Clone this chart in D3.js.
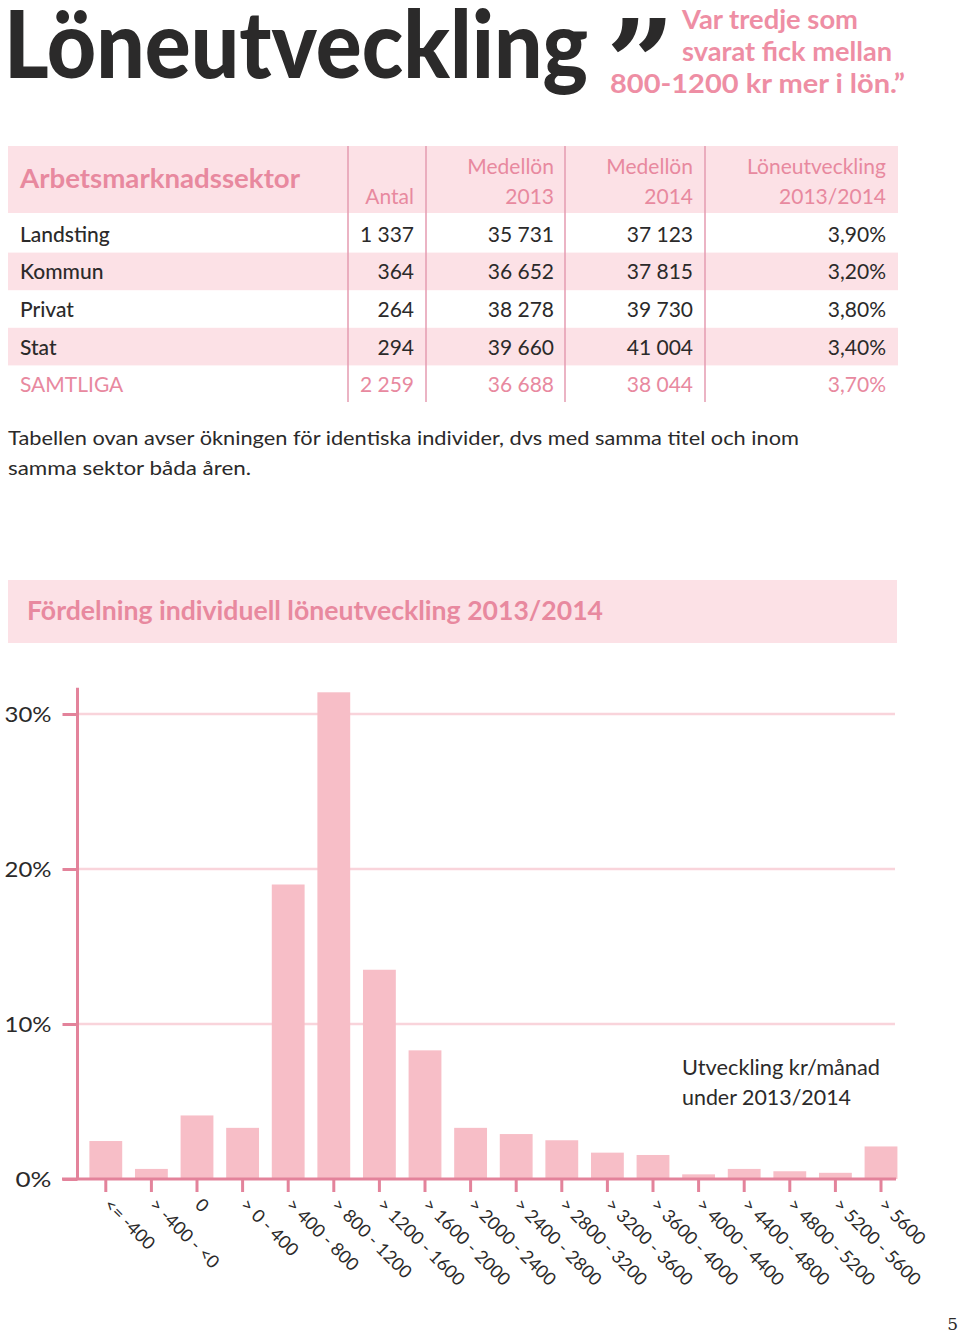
<!DOCTYPE html>
<html><head><meta charset="utf-8">
<script src="https://cdn.jsdelivr.net/npm/d3@7"></script>
<style>
html,body{margin:0;padding:0;background:#fff;}
svg{display:block;font-family:Lato,"Noto Sans",sans-serif;}
</style></head>
<body><svg id="c" width="960" height="1333"></svg>
<script>
// ---- data ----
const categories = ["<= -400","> -400 - <0","0","> 0 - 400","> 400 - 800","> 800 - 1200","> 1200 - 1600","> 1600 - 2000","> 2000 - 2400","> 2400 - 2800","> 2800 - 3200","> 3200 - 3600","> 3600 - 4000","> 4000 - 4400","> 4400 - 4800","> 4800 - 5200","> 5200 - 5600","> 5600"];
const shares = [2.45,0.65,4.1,3.3,19.0,31.4,13.5,8.3,3.3,2.9,2.5,1.7,1.55,0.3,0.65,0.5,0.4,2.1];
const yTicks = [0,10,20,30];
const sectors = ["Landsting","Kommun","Privat","Stat","SAMTLIGA"];
const antal = ["1 337","364","264","294","2 259"];
const medel2013 = ["35 731","36 652","38 278","39 660","36 688"];
const medel2014 = ["37 123","37 815","39 730","41 004","38 044"];
const utveckling = ["3,90%","3,20%","3,80%","3,40%","3,70%"];

const PINK="#e8899f", LIGHT="#fce1e6", BAR="#f7bec7", DARK="#2b2a2a", AXIS="#e3839b", GRID="#f9d4db";
const svg=d3.select("#c");

// ---- heading ----
svg.append("text").attr("x",4).attr("y",78).attr("font-size",94).attr("font-weight",900)
  .attr("fill",DARK).attr("textLength",584).attr("lengthAdjust","spacingAndGlyphs").text("Löneutveckling");
svg.append("text").attr("x",606).attr("y",106).attr("font-size",120).attr("font-weight",700)
  .attr("fill",DARK).attr("font-family","'DejaVu Serif',serif").text("”");
const q=[["Var tredje som",682,29,176],["svarat fick mellan",682,61,210],["800-1200 kr mer i lön.”",610,93,295]];
q.forEach(([t,x,y,w])=>svg.append("text").attr("x",x).attr("y",y).attr("font-size",27).attr("font-weight",700)
  .attr("fill","#ee8ea4").attr("textLength",w).attr("lengthAdjust","spacingAndGlyphs").text(t));

// ---- table ----
const tL=8,tR=898,hTop=146,hBot=213,rowH=37.6;
const colRight=[414,554,693,886];
const dividers=[348,426,565,705];
svg.append("rect").attr("x",tL).attr("y",hTop).attr("width",tR-tL).attr("height",hBot-hTop).attr("fill",LIGHT);
sectors.forEach((s,i)=>{ if(i%2===1) svg.append("rect").attr("x",tL).attr("y",hBot+2+i*rowH).attr("width",tR-tL).attr("height",rowH).attr("fill",LIGHT);});
dividers.forEach(x=>svg.append("line").attr("x1",x).attr("x2",x).attr("y1",hTop).attr("y2",402).attr("stroke","#e49bb0").attr("stroke-width",1.5));
svg.append("text").attr("x",20).attr("y",188).attr("font-size",26).attr("font-weight",700).attr("fill",PINK)
  .attr("textLength",280).attr("lengthAdjust","spacingAndGlyphs").text("Arbetsmarknadssektor");
const heads=[["","Antal"],["Medellön","2013"],["Medellön","2014"],["Löneutveckling","2013/2014"]];
heads.forEach((h,j)=>{
  svg.append("text").attr("x",colRight[j]).attr("y",174).attr("text-anchor","end").attr("font-size",21).attr("fill",PINK).text(h[0]);
  svg.append("text").attr("x",colRight[j]).attr("y",204).attr("text-anchor","end").attr("font-size",21).attr("fill",PINK).text(h[1]);
});
const cols=[antal,medel2013,medel2014,utveckling];
sectors.forEach((s,i)=>{
  const y=hBot+2+i*rowH+rowH/2+8;
  const c= i===4?PINK:DARK;
  svg.append("text").attr("x",20).attr("y",y).attr("font-size",21).attr("fill",c).attr("font-weight",i===4?400:500).text(s);
  cols.forEach((arr,j)=>svg.append("text").attr("x",colRight[j]).attr("y",y).attr("text-anchor","end").attr("font-size",21).attr("fill",c).text(arr[i]));
});
svg.append("text").attr("x",8).attr("y",445).attr("font-size",20).attr("fill",DARK).attr("textLength",791).attr("lengthAdjust","spacingAndGlyphs")
  .text("Tabellen ovan avser ökningen för identiska individer, dvs med samma titel och inom");
svg.append("text").attr("x",8).attr("y",475).attr("font-size",20).attr("fill",DARK).attr("textLength",243).attr("lengthAdjust","spacingAndGlyphs").text("samma sektor båda åren.");

// ---- chart title band ----
svg.append("rect").attr("x",8).attr("y",580).attr("width",889).attr("height",63).attr("fill",LIGHT);
svg.append("text").attr("x",27).attr("y",620).attr("font-size",27).attr("font-weight",700).attr("fill",PINK)
  .attr("textLength",576).attr("lengthAdjust","spacingAndGlyphs").text("Fördelning individuell löneutveckling 2013/2014");

// ---- bar chart ----
const y=d3.scaleLinear().domain([0,30]).range([1179,714]);
const x=d3.scaleBand().domain(categories).range([83,903.8]).paddingInner(0.28).paddingOuter(0.14);
const axX=77.5;
// gridlines
svg.append("g").selectAll("line").data(yTicks.filter(d=>d>0)).join("line")
  .attr("x1",axX).attr("x2",895).attr("y1",d=>y(d)).attr("y2",d=>y(d)).attr("stroke",GRID).attr("stroke-width",2.5);
// bars
svg.append("g").selectAll("rect").data(shares).join("rect")
  .attr("x",(d,i)=>x(categories[i])).attr("width",x.bandwidth())
  .attr("y",d=>y(d)).attr("height",d=>y(0)-y(d)).attr("fill",BAR);
// y axis
const ya=svg.append("g").attr("transform",`translate(${axX},0)`)
  .call(d3.axisLeft(y).tickValues(yTicks).tickSize(15).tickPadding(11).tickFormat(d=>d+"%"));
ya.select(".domain").remove();
ya.selectAll(".tick line").attr("stroke",AXIS).attr("stroke-width",3);
ya.selectAll(".tick text").attr("font-size",22).attr("fill",DARK).attr("font-family","Lato,sans-serif").attr("dy","0.35em")
  .attr("textLength",d=>d===0?36:47).attr("lengthAdjust","spacingAndGlyphs");
svg.append("line").attr("x1",axX).attr("x2",axX).attr("y1",y(31.7)).attr("y2",y(0)).attr("stroke",AXIS).attr("stroke-width",3);
// x axis
const xa=svg.append("g").attr("transform",`translate(0,${y(0)})`)
  .call(d3.axisBottom(x).tickSize(13).tickPadding(0));
xa.select(".domain").remove();
xa.selectAll(".tick line").attr("stroke",AXIS).attr("stroke-width",3);
xa.selectAll(".tick text").attr("font-size",18).attr("fill",DARK).attr("font-family","Lato,sans-serif")
  .attr("text-anchor","start").attr("dy",null).attr("y",0)
  .attr("transform","translate(-3,27) rotate(45)");
svg.append("line").attr("x1",62).attr("x2",896).attr("y1",y(0)).attr("y2",y(0)).attr("stroke",AXIS).attr("stroke-width",3);

// annotation
svg.append("text").attr("x",682).attr("y",1075).attr("font-size",21).attr("fill",DARK)
  .attr("textLength",198).attr("lengthAdjust","spacingAndGlyphs").text("Utveckling kr/månad");
svg.append("text").attr("x",682).attr("y",1105).attr("font-size",21).attr("fill",DARK)
  .attr("textLength",169).attr("lengthAdjust","spacingAndGlyphs").text("under 2013/2014");
// page number
svg.append("text").attr("x",958).attr("y",1330).attr("text-anchor","end").attr("font-size",17).attr("fill",DARK)
  .attr("font-family","'DejaVu Serif',serif").text("5");
</script></body></html>
